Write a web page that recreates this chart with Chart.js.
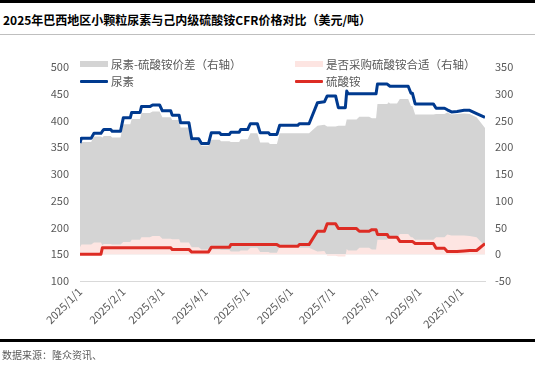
<!DOCTYPE html>
<html>
<head>
<meta charset="utf-8">
<script src="https://cdn.jsdelivr.net/npm/chart.js@4.4.1/dist/chart.umd.min.js"></script>
<style>
    html, body { margin: 0; padding: 0; background: #fff; }
    #wrap { position: relative; width: 535px; height: 367px; overflow: hidden;
        font-family: "Noto Sans CJK SC", "Noto Sans", sans-serif; }
    #topbar { position: absolute; left: 0; top: 0; width: 535px; height: 3px; background: #000; }
    #title { position: absolute; left: 3px; top: 11px; font-size: 12px; font-weight: bold;
        color: #000; white-space: nowrap; line-height: 18px; }
    #rule { position: absolute; left: 0; top: 34px; width: 535px; height: 1px; background: #bfbfbf; }
    #chart { position: absolute; left: 0; top: 0; }
    .lg { position: absolute; height: 16px; line-height: 16px; font-size: 11.5px; color: #595959; white-space: nowrap; }
    .lg span { position: absolute; }
    #footline { position: absolute; left: 0; top: 339px; width: 535px; height: 3px; background: #000; }
    #source { position: absolute; left: 2px; top: 347px; font-size: 10px; color: #595959; white-space: nowrap; }
</style>
</head>
<body>
<div id="wrap">
    <div id="topbar"></div>
    <div id="title">2025年巴西地区小颗粒尿素与己内级硫酸铵CFR价格对比（美元/吨）</div>
    <div id="rule"></div>
    <canvas id="chart" width="535" height="367"></canvas>
    <div id="legend"></div>
    <div id="footline"></div>
    <div id="source">数据来源：隆众资讯、</div>
</div>
<script>
// dates (2025, month/day)
const dates = ['1/1', '1/2', '1/9', '1/11', '1/16', '1/17', '1/18', '1/23', '1/24', '1/30',
    '2/1', '2/6', '2/7', '2/13', '2/14', '2/20', '2/22', '2/27',
    '3/1', '3/7', '3/8', '3/13', '3/14', '3/20', '3/22', '3/27', '3/29',
    '4/3', '4/5', '4/11', '4/12', '4/18', '4/19', '4/25', '4/26',
    '5/1', '5/3', '5/8', '5/10', '5/16', '5/17', '5/22', '5/24',
    '6/6', '6/7', '6/14', '6/20', '6/25', '6/27',
    '7/3', '7/5', '7/10', '7/11', '7/12', '7/18', '7/20', '7/27', '7/29',
    '8/1', '8/2', '8/9', '8/10', '8/11', '8/16', '8/18', '8/24', '8/26', '8/27', '8/29',
    '9/11', '9/13', '9/19', '9/21', '9/24', '9/28',
    '10/3', '10/7', '10/12', '10/18'];

// 尿素 (left axis)
const ureaPrice = [358, 367, 367, 376, 376, 380, 383, 383, 380, 380,
    405, 405, 415, 415, 426, 426, 429, 429,
    418, 418, 410, 410, 396, 396, 366, 366, 357,
    357, 377, 377, 374, 374, 378, 378, 383,
    383, 394, 394, 377, 377, 374, 374, 391,
    391, 394, 394, 433, 435, 446,
    446, 424, 424, 455, 450, 450, 450, 450, 450,
    450, 468, 468, 466, 464, 464, 464, 464, 451, 451, 431,
    431, 423, 423, 420, 416, 417,
    419, 419, 413, 406];

// 硫酸铵 (left axis)
const asPrice = [150, 150, 150, 150, 150, 162, 162, 162, 162, 162,
    162, 162, 162, 162, 162, 162, 162, 162,
    162, 162, 159, 159, 159, 159, 154, 154, 154,
    154, 163, 163, 163, 163, 168, 168, 168,
    168, 168, 168, 168, 168, 168, 168, 165,
    165, 168, 168, 193, 193, 207,
    207, 198, 198, 198, 198, 198, 193, 193, 196,
    196, 187, 187, 182, 182, 182, 174, 174, 174, 174, 170,
    170, 161, 161, 155, 155, 155,
    156, 157, 157, 170];

// 尿素-硫酸铵价差 (right axis)
const spread = [208, 210, 210, 220, 220, 218, 221, 221, 218, 218,
    243, 243, 253, 253, 264, 264, 267, 267,
    256, 256, 251, 251, 237, 237, 212, 212, 203,
    203, 214, 214, 211, 211, 210, 210, 215,
    215, 226, 226, 209, 209, 206, 206, 226,
    226, 226, 226, 240, 242, 239,
    239, 240, 240, 252, 252, 252, 257, 257, 254,
    254, 281, 281, 284, 282, 282, 290, 290, 277, 277, 261,
    261, 262, 262, 265, 261, 262,
    263, 262, 256, 236];

// 是否采购硫酸铵合适 (right axis)
const suitability = [13, 18, 18, 22, 22, 17, 19, 19, 18, 18,
    23, 23, 27, 27, 32, 32, 34, 34,
    29, 29, 28, 28, 22, 22, 13, 13, 9,
    9, 9, 9, 8, 8, 5, 5, 7,
    7, 12, 12, 4, 4, 3, 3, 14,
    14, 12, 12, 5, 6, -3,
    -3, -4, -4, 10, 7, 7, 12, 12, 9,
    9, 27, 27, 31, 30, 30, 38, 38, 32, 32, 27,
    27, 32, 32, 37, 35, 35,
    35, 34, 32, 15];

const monthTicks = ['1/1', '2/1', '3/1', '4/1', '5/1', '6/1', '7/1', '8/1', '9/1', '10/1'];

const seriesNames = ['尿素-硫酸铵价差（右轴）', '是否采购硫酸铵合适（右轴）', '尿素', '硫酸铵'];

const DAY = 86400000;
const START = Date.UTC(2025, 0, 1);

function dayOf(md) {
    const parts = md.split('/');
    return (Date.UTC(2025, +parts[0] - 1, +parts[1]) - START) / DAY;
}

function toPoints(values) {
    return dates.map((d, i) => ({ x: dayOf(d), y: values[i] }));
}

function dateLabel(v) {
    const d = new Date(START + v * DAY);
    return d.getUTCFullYear() + '/' + (d.getUTCMonth() + 1) + '/' + d.getUTCDate();
}

const colors = {
    spread: '#d4d4d4',
    pink: '#fde5e2',
    urea: '#003a8f',
    as: '#dd2c24',
    text: '#595959'
};

const tickFont = { family: '"Noto Sans CJK SC", "Noto Sans", sans-serif', size: 11 };

const chartData = {
    datasets: [
        {
            label: seriesNames[0],
            data: toPoints(spread),
            yAxisID: 'y1',
            backgroundColor: colors.spread,
            borderWidth: 0,
            pointRadius: 0,
            fill: 'origin',
            order: 4
        },
        {
            label: seriesNames[1],
            data: toPoints(suitability),
            yAxisID: 'y1',
            backgroundColor: colors.pink,
            borderWidth: 0,
            pointRadius: 0,
            fill: 'origin',
            order: 3
        },
        {
            label: seriesNames[2],
            data: toPoints(ureaPrice),
            yAxisID: 'y',
            borderColor: colors.urea,
            borderWidth: 3,
            pointRadius: 0,
            fill: false,
            borderJoinStyle: 'round',
            order: 2
        },
        {
            label: seriesNames[3],
            data: toPoints(asPrice),
            yAxisID: 'y',
            borderColor: colors.as,
            borderWidth: 3,
            pointRadius: 0,
            fill: false,
            borderJoinStyle: 'round',
            order: 1
        }
    ]
};

const config = {
    type: 'line',
    data: chartData,
    options: {
        responsive: false,
        animation: false,
        layout: { padding: { top: 67, right: 0, left: 0, bottom: 0 } },
        plugins: {
            legend: { display: false },
            tooltip: { enabled: false }
        },
        scales: {
            x: {
                type: 'linear',
                min: dayOf(dates[0]),
                max: dayOf(dates[dates.length - 1]),
                afterBuildTicks: (scale) => {
                    scale.ticks = monthTicks.map(m => ({ value: dayOf(m) }));
                },
                afterFit: (scale) => { scale.height = 86; },
                grid: { display: false, drawTicks: false },
                border: { display: true, color: '#d9d9d9', width: 1 },
                ticks: {
                    autoSkip: false,
                    minRotation: 45,
                    maxRotation: 45,
                    padding: 4,
                    color: colors.text,
                    font: tickFont,
                    callback: (v) => dateLabel(v)
                }
            },
            y: {
                position: 'left',
                min: 100,
                max: 500,
                afterFit: (scale) => { scale.width = 80; },
                grid: { display: false, drawTicks: false },
                border: { display: false },
                ticks: { stepSize: 50, padding: 11, color: colors.text, font: tickFont }
            },
            y1: {
                position: 'right',
                min: -50,
                max: 350,
                afterFit: (scale) => { scale.width = 50; },
                grid: { display: false, drawTicks: false },
                border: { display: false },
                ticks: { stepSize: 50, padding: 10, color: colors.text, font: tickFont }
            }
        }
    }
};

new Chart(document.getElementById('chart'), config);

// legend, two columns like the original
const legendItems = [
    { name: seriesNames[0], kind: 'box', color: colors.spread, col: 0, row: 0 },
    { name: seriesNames[1], kind: 'box', color: colors.pink, col: 1, row: 0 },
    { name: seriesNames[2], kind: 'line', color: colors.urea, col: 0, row: 1 },
    { name: seriesNames[3], kind: 'line', color: colors.as, col: 1, row: 1 }
];
const colLeft = [80, 295];
const rowTop = [56, 73];
const legendEle = document.getElementById('legend');
legendItems.forEach(item => {
    const div = document.createElement('div');
    div.className = 'lg';
    div.style.left = colLeft[item.col] + 'px';
    div.style.top = rowTop[item.row] + 'px';
    const sym = document.createElement('span');
    sym.style.left = '0px';
    sym.style.width = '28px';
    sym.style.background = item.color;
    if (item.kind === 'box') {
        sym.style.top = '5px';
        sym.style.height = '6px';
    } else {
        sym.style.top = '7px';
        sym.style.height = '3px';
        sym.style.borderRadius = '1px';
    }
    const txt = document.createElement('span');
    txt.style.left = '31px';
    txt.style.top = '0px';
    txt.textContent = item.name;
    div.appendChild(sym);
    div.appendChild(txt);
    legendEle.appendChild(div);
});
</script>
</body>
</html>
